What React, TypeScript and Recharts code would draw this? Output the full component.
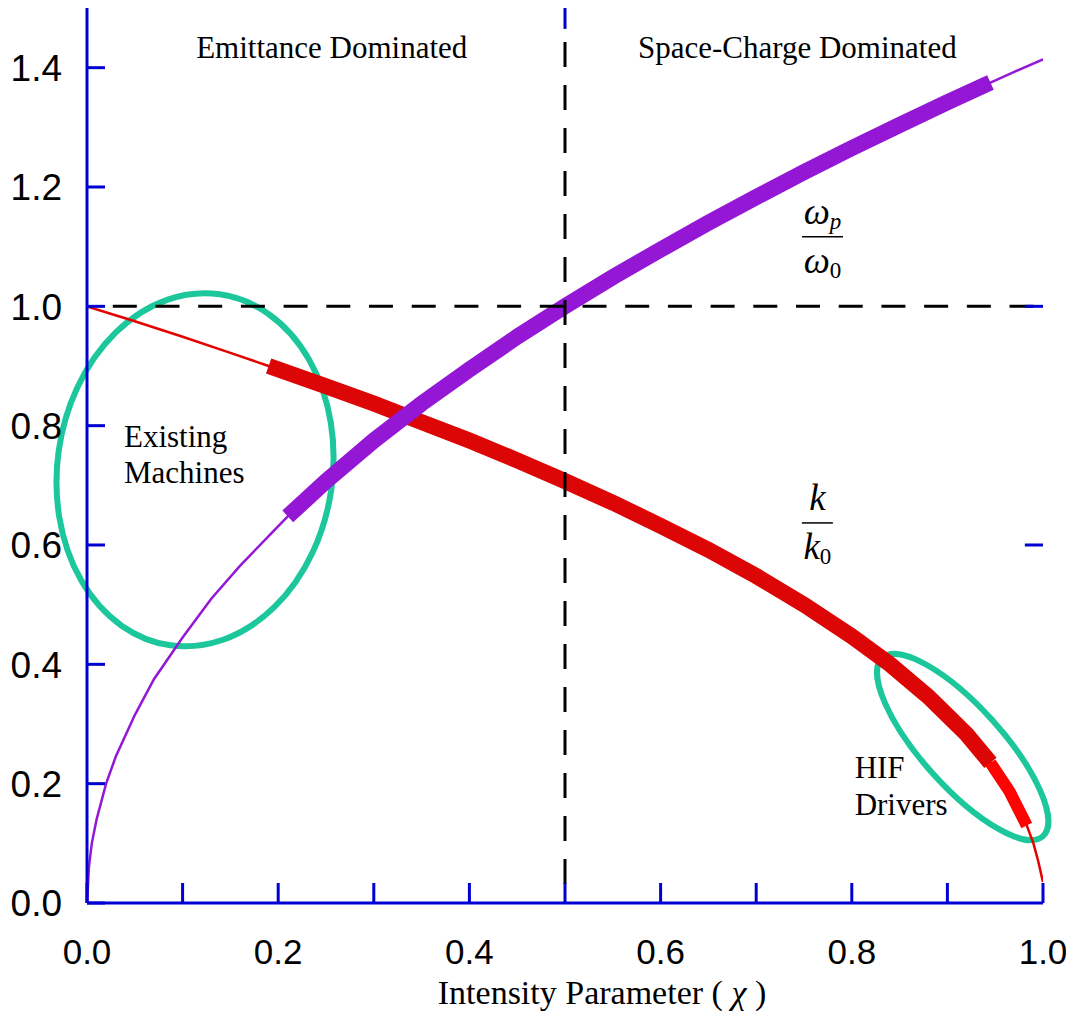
import React from "react";
import { ComposedChart, Line, XAxis, YAxis, ReferenceLine, ReferenceArea, ReferenceDot } from "recharts";

const BLUE = "#0000d2";
const PURPLE = "#9417d5";
const RED = "#dc0606";
const RED_THIN = "#e50000";
const RED_END = "#ff0303";
const TEAL = "#1cc79b";
const SANS = "'Liberation Sans', Arial, sans-serif";
const SERIF = "'Liberation Serif', 'Times New Roman', serif";

// omega_p / omega_0 curve
const chiOmega = [0, 0.002, 0.005, 0.01, 0.02, 0.03, 0.05, 0.07, 0.1, 0.13, 0.16, 0.19, 0.21, 0.25, 0.3, 0.35, 0.4, 0.45, 0.5, 0.55, 0.6, 0.65, 0.7, 0.75, 0.8, 0.85, 0.9, 0.945, 0.97, 1.0];
const omegaRatio = [0, 0.06, 0.1, 0.14, 0.2, 0.245, 0.315, 0.375, 0.445, 0.51, 0.565, 0.615, 0.648, 0.707, 0.775, 0.837, 0.894, 0.949, 1.0, 1.049, 1.095, 1.14, 1.183, 1.225, 1.265, 1.304, 1.342, 1.375, 1.393, 1.414];

// k / k_0 curve
const chiK = [0, 0.05, 0.1, 0.15, 0.19, 0.25, 0.3, 0.35, 0.4, 0.45, 0.5, 0.55, 0.6, 0.65, 0.7, 0.75, 0.8, 0.84, 0.88, 0.92, 0.945, 0.965, 0.983, 0.99, 0.995, 1.0];
const kRatio = [1.0, 0.975, 0.949, 0.922, 0.9, 0.866, 0.837, 0.806, 0.775, 0.742, 0.707, 0.671, 0.632, 0.592, 0.548, 0.5, 0.447, 0.4, 0.346, 0.283, 0.235, 0.187, 0.13, 0.1, 0.07, 0.035];

// chi ranges where the curves are drawn heavy
const omegaBand = [0.21, 0.945];
const kBand = [0.19, 0.945];
const kBandEnd = [0.945, 0.983];

const xTicks = [0, 0.1, 0.2, 0.3, 0.4, 0.5, 0.6, 0.7, 0.8, 0.9, 1.0];
const yTicks = [0, 0.2, 0.4, 0.6, 0.8, 1.0, 1.2, 1.4];
const rightTicks = [0.6, 1.0];

const omegaRows = chiOmega.map((x, i) => ({ x, v: omegaRatio[i] }));
const kRows = chiK.map((x, i) => ({ x, v: kRatio[i] }));
const inRange = (r: number[]) => (d: { x: number }) => d.x >= r[0] && d.x <= r[1];

const YTick = (props: any) => {
  const { x, y, payload } = props;
  return (
    <g>
      <line x1={x} x2={x + 18} y1={y} y2={y} stroke={BLUE} strokeWidth={3} />
      <text x={x - 25} y={y} dy="0.36em" textAnchor="end" fontFamily={SANS} fontSize={37} fill="#000">
        {Number(payload.value).toFixed(1)}
      </text>
    </g>
  );
};

const XTick = (props: any) => {
  const { x, y, payload } = props;
  const labeled = Math.round(payload.value * 10) % 2 === 0;
  return (
    <g>
      <line x1={x} x2={x} y1={y} y2={y - 20} stroke={BLUE} strokeWidth={3} />
      {labeled && (
        <text x={x} y={y + 61} textAnchor="middle" fontFamily={SANS} fontSize={35} fill="#000">
          {Number(payload.value).toFixed(1)}
        </text>
      )}
    </g>
  );
};

const AxisTitle = (props: any) => {
  const vb = props.viewBox || { x: 79, y: 895, width: 956, height: 110 };
  return (
    <text x={vb.x + vb.width / 2 + 37} y={vb.y + 101} textAnchor="middle" fontFamily={SERIF} fontSize={34} fill="#000">
      Intensity Parameter ( <tspan fontStyle="italic">χ</tspan> )
    </text>
  );
};

const ring = (angle: number) => (props: any) => {
  const { x, y, width, height } = props;
  const cx = x + width / 2;
  const cy = y + height / 2;
  return (
    <ellipse cx={cx} cy={cy} rx={Math.abs(width) / 2} ry={Math.abs(height) / 2}
      transform={`rotate(${angle} ${cx} ${cy})`} fill="none" stroke={TEAL} strokeWidth={6} />
  );
};

const note = (lines: string[], anchor: "start" | "middle", gap = 36) => (props: any) => (
  <text x={props.cx} y={props.cy} textAnchor={anchor} fontFamily={SERIF} fontSize={31} fill="#000">
    {lines.map((t, i) => (
      <tspan key={i} x={props.cx} dy={i === 0 ? 0 : gap}>{t}</tspan>
    ))}
  </text>
);

const fraction = (sym: string, sub: string, subTop: string | null, width: number) => (props: any) => {
  const { cx, cy } = props;
  return (
    <g fontFamily={SERIF} fill="#000">
      <text x={cx} y={cy - 13} textAnchor="middle" fontSize={37}>
        <tspan fontStyle="italic">{sym}</tspan>
        {subTop && <tspan fontStyle="italic" fontSize={23} dy={5}>{subTop}</tspan>}
      </text>
      <line x1={cx - width / 2} x2={cx + width / 2} y1={cy} y2={cy} stroke="#000" strokeWidth={1.5} />
      <text x={cx} y={cy + 36} textAnchor="middle" fontSize={37}>
        <tspan fontStyle="italic">{sym}</tspan>
        <tspan fontSize={23} dy={5}>{sub}</tspan>
      </text>
    </g>
  );
};

export default function App() {
  return (
    <ComposedChart width={1060} height={1005} margin={{ top: 0, right: 25, bottom: 0, left: 0 }}>
      <XAxis dataKey="x" type="number" domain={[0, 1]} ticks={xTicks} interval={0} height={110}
        axisLine={{ stroke: BLUE, strokeWidth: 3 }} tickLine={false} tickSize={0} tickMargin={0}
        tick={<XTick />} label={<AxisTitle />} allowDataOverflow />
      <YAxis type="number" domain={[0, 1.5]} ticks={yTicks} interval={0} width={79}
        axisLine={{ stroke: BLUE, strokeWidth: 3 }} tickLine={false} tickSize={0} tickMargin={0}
        tick={<YTick />} allowDataOverflow />

      <Line data={kRows} dataKey="v" stroke={RED_THIN} strokeWidth={2.5} dot={false} activeDot={false} isAnimationActive={false} />
      <Line data={kRows.filter(inRange(kBand))} dataKey="v" stroke={RED} strokeWidth={16} dot={false} activeDot={false} isAnimationActive={false} />
      <Line data={kRows.filter(inRange(kBandEnd))} dataKey="v" stroke={RED_END} strokeWidth={12} dot={false} activeDot={false} isAnimationActive={false} />
      <Line data={omegaRows} dataKey="v" stroke={PURPLE} strokeWidth={2.5} dot={false} activeDot={false} isAnimationActive={false} />
      <Line data={omegaRows.filter(inRange(omegaBand))} dataKey="v" stroke={PURPLE} strokeWidth={16} dot={false} activeDot={false} isAnimationActive={false} />

      <ReferenceLine segment={[{ x: 0.027, y: 1.0 }, { x: 1.0, y: 1.0 }]} stroke="#000" strokeWidth={3} strokeDasharray="24 18.7" />
      <ReferenceLine segment={[{ x: 0.5, y: 1.443 }, { x: 0.5, y: 0 }]} stroke="#000" strokeWidth={3} strokeDasharray="25 18" />
      <ReferenceLine segment={[{ x: 0.5, y: 1.5 }, { x: 0.5, y: 1.465 }]} stroke={BLUE} strokeWidth={3} />
      {rightTicks.map((t) => (
        <ReferenceLine key={t} segment={[{ x: 0.981, y: t }, { x: 1.0, y: t }]} stroke={BLUE} strokeWidth={3} />
      ))}

      <ReferenceArea x1={-0.031} x2={0.257} y1={0.429} y2={1.023} ifOverflow="visible" shape={ring(8)} />
      <ReferenceArea x1={0.7905} x2={1.0415} y1={0.1945} y2={0.3285} ifOverflow="visible" shape={ring(48)} />

      <ReferenceDot x={0.256} y={1.417} r={0} ifOverflow="visible" shape={note(["Emittance Dominated"], "middle")} />
      <ReferenceDot x={0.743} y={1.417} r={0} ifOverflow="visible" shape={note(["Space-Charge Dominated"], "middle")} />
      <ReferenceDot x={0.0387} y={0.7645} r={0} ifOverflow="visible" shape={note(["Existing", "Machines"], "start")} />
      <ReferenceDot x={0.803} y={0.2096} r={0} ifOverflow="visible" shape={note(["HIF", "Drivers"], "start", 37)} />
      <ReferenceDot x={0.7694} y={1.1165} r={0} ifOverflow="visible" shape={fraction("ω", "0", "p", 41)} />
      <ReferenceDot x={0.764} y={0.637} r={0} ifOverflow="visible" shape={fraction("k", "0", null, 31)} />
    </ComposedChart>
  );
}
